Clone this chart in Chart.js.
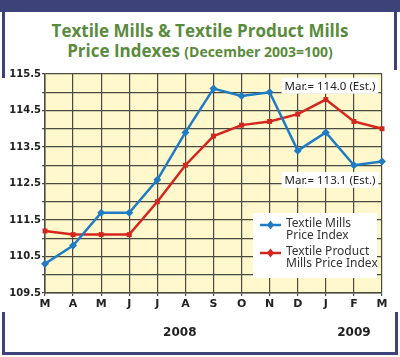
<!DOCTYPE html>
<html>
<head>
<meta charset="utf-8">
<script src="https://cdn.jsdelivr.net/npm/chart.js@4/dist/chart.umd.min.js"></script>
<style>
html,body{margin:0;padding:0;background:#fff;}
#wrap{position:relative;width:400px;height:357px;overflow:hidden;background:#fff;}
.bar{position:absolute;background:#3d4379;}
#title{position:absolute;left:0;width:400px;top:21px;text-align:center;color:#5a8b3c;font-family:"Open Sans","Noto Sans",sans-serif;font-weight:bold;line-height:20px;}
#t1{font-size:17px;}
#t2{font-size:17px;}
#t2 small{font-size:14px;}
canvas{position:absolute;left:0;top:0;}
</style>
</head>
<body>
<div id="wrap">
  <div class="bar" style="left:0;top:0;width:400px;height:12px;"></div>
  <div class="bar" style="left:2px;top:0;width:3px;height:78px;"></div>
  <div class="bar" style="left:394px;top:0;width:3px;height:70px;"></div>
  <div class="bar" style="left:2px;top:312px;width:3px;height:43px;"></div>
  <div class="bar" style="left:2px;top:352px;width:396px;height:3px;"></div>
  <div class="bar" style="left:395px;top:312px;width:3px;height:43px;"></div>
  <div id="title"><div id="t1">Textile Mills &amp; Textile Product Mills</div><div id="t2">Price Indexes <small>(December 2003=100)</small></div></div>
  <canvas id="c" width="400" height="357"></canvas>
</div>
<script>
const months = ["M","A","M","J","J","A","S","O","N","D","J","F","M"];
const textileMills = [110.3,110.8,111.7,111.7,112.6,113.9,115.1,114.9,115.0,113.4,113.9,113.0,113.1];
const textileProductMills = [111.2,111.1,111.1,111.1,112.0,113.0,113.8,114.1,114.2,114.4,114.8,114.2,114.0];
const seriesNames = [["Textile Mills","Price Index"],["Textile Product","Mills Price Index"]];
const yearLabels = [{label:"2008", at:4.8},{label:"2009", at:11}];
const annotations = [{text:"Mar.= 114.0 (Est.)", index:12, y:115.18},{text:"Mar.= 113.1 (Est.)", index:12, y:112.6}];

const blue = "#1f7cc4", red = "#d3261f";
const labelFont = '"Noto Sans","Open Sans",sans-serif';

const bgPlugin = {
  id:"bg",
  beforeDraw(chart){
    const {ctx, chartArea:a} = chart;
    ctx.save();
    ctx.fillStyle = "#fef8cc";
    ctx.fillRect(a.left, a.top, a.right-a.left, a.bottom-a.top);
    ctx.restore();
  }
};

const extrasPlugin = {
  id:"extras",
  afterDatasetsDraw(chart){
    const {ctx, chartArea:a} = chart;
    const xs = chart.scales.x, ys = chart.scales.y;
    ctx.save();
    // annotations
    ctx.font = "11.5px " + labelFont;
    ctx.textBaseline = "middle";
    annotations.forEach(an=>{
      const w = ctx.measureText(an.text).width + 6;
      const cx = xs.getPixelForValue(an.index) - 52;
      const cy = ys.getPixelForValue(an.y);
      ctx.fillStyle = "#fff";
      ctx.fillRect(cx - w/2, cy - 8, w, 16);
      ctx.fillStyle = "#222";
      ctx.textAlign = "center";
      ctx.fillText(an.text, cx, cy+1);
    });
    // legend
    const lx = 253, ly = 213, lw = 124, lh = 65;
    ctx.fillStyle = "#fff";
    ctx.fillRect(lx, ly, lw, lh);
    ctx.textAlign = "left";
    ctx.font = "12px " + labelFont;
    chart.data.datasets.forEach((ds,i)=>{
      const y0 = ly + 11 + i*28;
      ctx.strokeStyle = ds.borderColor; ctx.lineWidth = 2.5;
      ctx.beginPath(); ctx.moveTo(lx+7, y0+1); ctx.lineTo(lx+28, y0+1); ctx.stroke();
      ctx.fillStyle = ds.borderColor;
      ctx.beginPath();
      ctx.moveTo(lx+17.5, y0-3.5); ctx.lineTo(lx+21, y0+1); ctx.lineTo(lx+17.5, y0+5.5); ctx.lineTo(lx+14, y0+1); ctx.closePath(); ctx.fill();
      ctx.fillStyle = "#333";
      seriesNames[i].forEach((t,k)=>ctx.fillText(t, lx+33, y0 + k*12));
    });
    // year labels
    ctx.font = "bold 12px " + '"DejaVu Sans",sans-serif';
    ctx.fillStyle = "#222";
    ctx.textAlign = "center";
    yearLabels.forEach(yl=>{
      ctx.fillText(yl.label, xs.getPixelForValue(yl.at), 333);
    });
    ctx.restore();
  }
};

new Chart(document.getElementById("c"), {
  type:"line",
  data:{
    labels: months,
    datasets:[
      {label:seriesNames[0].join(" "), data:textileMills, borderColor:blue, backgroundColor:blue, borderWidth:2.5, pointStyle:"rectRot", pointRadius:4, pointBorderWidth:0, tension:0},
      {label:seriesNames[1].join(" "), data:textileProductMills, borderColor:red, backgroundColor:red, borderWidth:2.5, pointStyle:"rect", pointRadius:3.5, pointBorderWidth:0, tension:0}
    ]
  },
  options:{
    responsive:false,
    animation:false,
    devicePixelRatio:1,
    layout:{padding:{left:0,right:18,top:74,bottom:44}},
    plugins:{legend:{display:false}, tooltip:{enabled:false}, title:{display:false}},
    scales:{
      x:{
        type:"category",
        offset:false,
        grid:{color:"#4a4a40", lineWidth:1.2, tickLength:3, drawTicks:true, tickColor:"#4a4a40"},
        border:{color:"#4a4a40", width:1.5},
        ticks:{color:"#222", font:{family:'"DejaVu Sans",sans-serif', weight:"bold", size:11}, padding:2, autoSkip:false, maxRotation:0},
        afterFit(s){ s.height = 20; }
      },
      y:{
        min:109.5, max:115.5,
        grid:{color:"#4a4a40", lineWidth:1.2, tickLength:3, tickColor:"#4a4a40"},
        border:{color:"#4a4a40", width:1.5},
        ticks:{stepSize:0.5, color:"#222", font:{family:'"DejaVu Sans",sans-serif', weight:"bold", size:10}, padding:1,
          callback:(v)=> (Math.round((v-109.5)*10) % 10 === 0) ? v.toFixed(1) : ""},
        afterFit(s){ s.width = 45; }
      }
    }
  },
  plugins:[bgPlugin, extrasPlugin]
});
</script>
</body>
</html>
